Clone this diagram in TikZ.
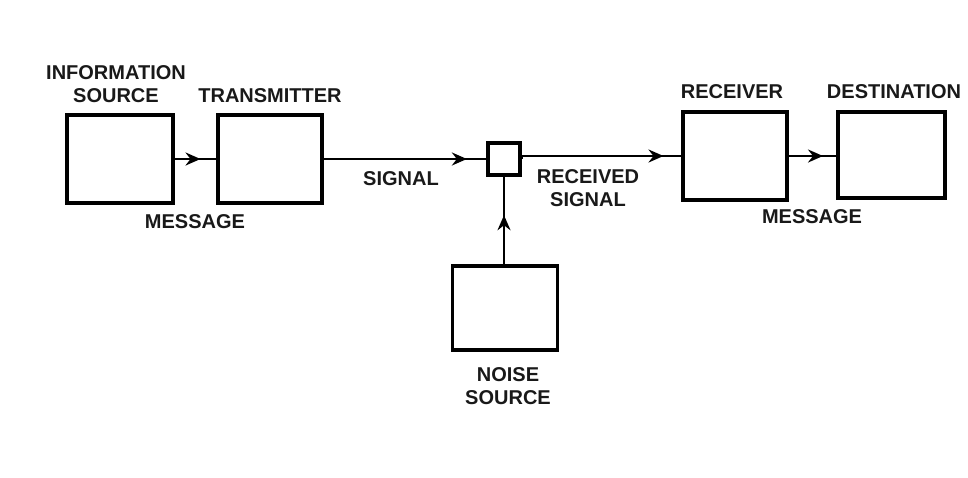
\documentclass[tikz,border=0pt]{standalone}
\usepackage{fontspec}
\setmainfont{Liberation Sans}
\usetikzlibrary{arrows.meta,decorations.markings}
\tikzset{
  blk/.style={draw=black, line width=3.2pt, minimum width=#1, inner sep=0pt},
  lbl/.style={inner sep=0pt, align=center, text=black!90, font=\bfseries\fontsize{20}{23.5}\selectfont},
  conn/.style={line width=2.8pt, decoration={markings, mark=at position #1 with {\arrow{Stealth[length=15pt,width=13pt,inset=5pt]}}}, postaction={decorate}}
}
\begin{document}
\begin{tikzpicture}[x=1pt,y=-1pt]
\useasboundingbox (0,0) rectangle (968,477);
% boxes
\node[blk=106pt, minimum height=88pt] (src) at (120,159) {};
\node[blk=104pt, minimum height=88pt] (tx) at (270,159) {};
\node[blk=32pt, minimum height=32pt] (mix) at (504,159) {};
\node[blk=105pt, minimum height=84pt] (noise) at (505,308) {};
\node[blk=104pt, minimum height=88pt] (rx) at (735,156) {};
\node[blk=107pt, minimum height=86pt] (dst) at (891.5,155) {};
% labels
\node[lbl] (l1) at (116,84) {INFORMATION\\SOURCE};
\node[lbl] (l2) at (270,96) {TRANSMITTER};
\node[lbl] (l3) at (195,222) {MESSAGE};
\node[lbl] (l4) at (401,179) {SIGNAL};
\node[lbl] (l5) at (588,188) {RECEIVED\\SIGNAL};
\node[lbl] (l6) at (508,386) {NOISE\\SOURCE};
\node[lbl] (l7) at (732,92) {RECEIVER};
\node[lbl] (l8) at (894,92) {DESTINATION};
\node[lbl] (l9) at (812,217) {MESSAGE};
% connectors
\draw[conn=0.62] (src.east) -- (tx.west);
\draw[conn=0.88] (tx.east) -- (tx.east -| mix.west);
\draw[conn=0.89] (mix.east) -- (mix.east |- rx.west) -- (rx.west);
\draw[conn=0.72] (rx.east) -- (dst.west |- rx.east);
\draw[conn=0.56] (noise.north -| mix.south) -- (mix.south);
\end{tikzpicture}
\end{document}
